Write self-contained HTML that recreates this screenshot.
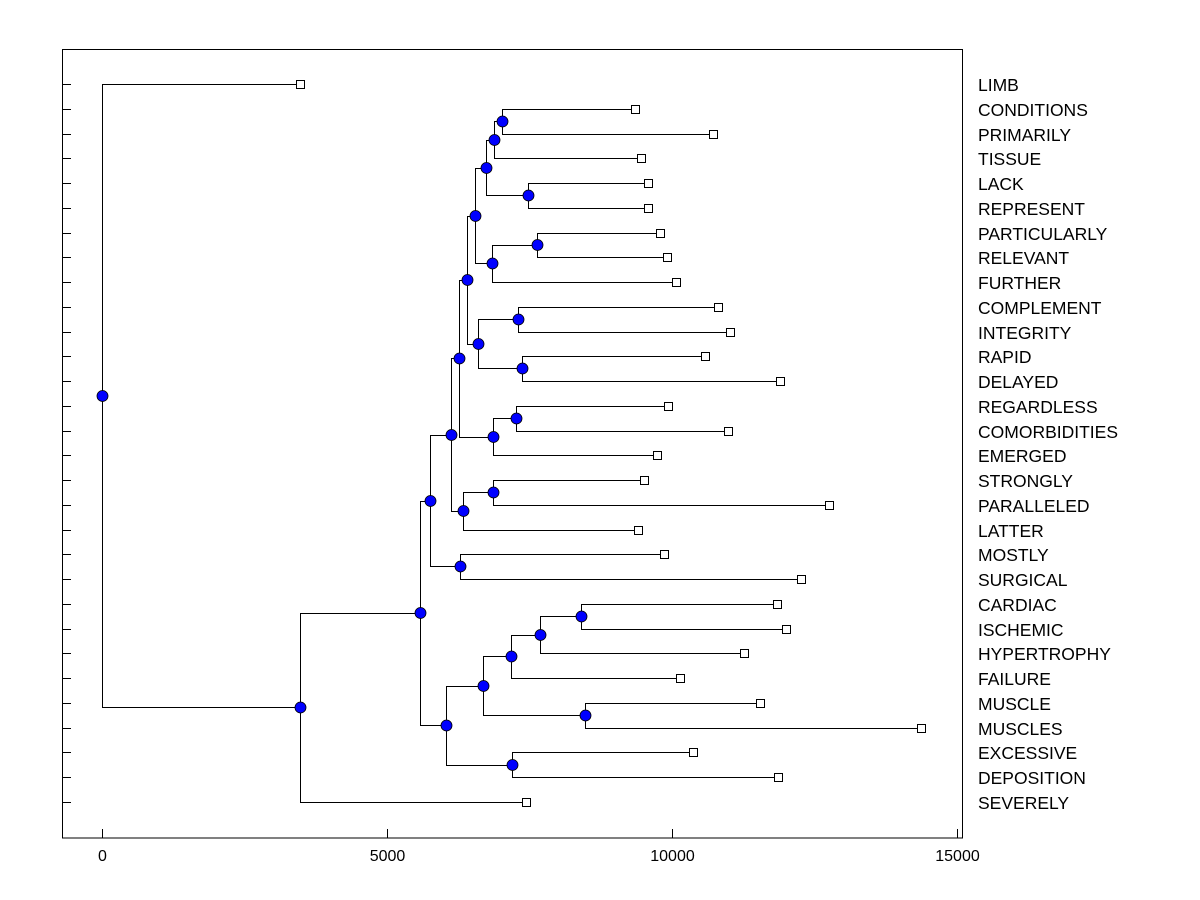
<!DOCTYPE html>
<html><head><meta charset="utf-8"><style>html,body{margin:0;padding:0;background:#fff}svg{display:block}text{font-family:"Liberation Sans",Arial,sans-serif;font-size:16px;fill:#000}.lab text{font-size:17.5px}</style></head><body>
<svg width="1200" height="900" viewBox="0 0 1200 900" xmlns="http://www.w3.org/2000/svg">
<rect x="0" y="0" width="1200" height="900" fill="#fff"/>
<rect x="62.5" y="49.5" width="900" height="788.5" fill="none" stroke="#000" stroke-width="1"/>
<g stroke="#000" stroke-width="1">
<path d="M62 84.5H71M62 109.5H71M62 134.5H71M62 158.5H71M62 183.5H71M62 208.5H71M62 233.5H71M62 257.5H71M62 282.5H71M62 307.5H71M62 332.5H71M62 356.5H71M62 381.5H71M62 406.5H71M62 431.5H71M62 455.5H71M62 480.5H71M62 505.5H71M62 530.5H71M62 554.5H71M62 579.5H71M62 604.5H71M62 629.5H71M62 653.5H71M62 678.5H71M62 703.5H71M62 728.5H71M62 752.5H71M62 777.5H71M62 802.5H71"/>
<path d="M102.5 838V829M387.5 838V829M672.5 838V829M957.5 838V829"/>
</g>
<g fill="none" stroke="#000" stroke-width="1">
<path d="M300 84.5H102.5V707.5H300"/>
<path d="M420 613.5H300.5V802.5H526"/>
<path d="M430 501.5H420.5V725.5H446"/>
<path d="M451 435.5H430.5V566.5H460"/>
<path d="M459 358.5H451.5V511.5H463"/>
<path d="M467 280.5H459.5V437.5H493"/>
<path d="M475 216.5H467.5V344.5H478"/>
<path d="M486 168.5H475.5V263.5H492"/>
<path d="M494 140.5H486.5V195.5H528"/>
<path d="M502 121.5H494.5V158.5H641"/>
<path d="M635 109.5H502.5V134.5H713"/>
<path d="M648 183.5H528.5V208.5H648"/>
<path d="M537 245.5H492.5V282.5H676"/>
<path d="M660 233.5H537.5V257.5H667"/>
<path d="M518 319.5H478.5V368.5H522"/>
<path d="M718 307.5H518.5V332.5H730"/>
<path d="M705 356.5H522.5V381.5H780"/>
<path d="M516 418.5H493.5V455.5H657"/>
<path d="M668 406.5H516.5V431.5H728"/>
<path d="M493 492.5H463.5V530.5H638"/>
<path d="M644 480.5H493.5V505.5H829"/>
<path d="M664 554.5H460.5V579.5H801"/>
<path d="M483 686.5H446.5V765.5H512"/>
<path d="M511 656.5H483.5V715.5H585"/>
<path d="M540 635.5H511.5V678.5H680"/>
<path d="M581 616.5H540.5V653.5H744"/>
<path d="M777 604.5H581.5V629.5H786"/>
<path d="M760 703.5H585.5V728.5H921"/>
<path d="M693 752.5H512.5V777.5H778"/>
</g>
<g fill="#fff" stroke="#000" stroke-width="1">
<rect x="296.5" y="80.5" width="8" height="8"/>
<rect x="631.5" y="105.5" width="8" height="8"/>
<rect x="709.5" y="130.5" width="8" height="8"/>
<rect x="637.5" y="154.5" width="8" height="8"/>
<rect x="644.5" y="179.5" width="8" height="8"/>
<rect x="644.5" y="204.5" width="8" height="8"/>
<rect x="656.5" y="229.5" width="8" height="8"/>
<rect x="663.5" y="253.5" width="8" height="8"/>
<rect x="672.5" y="278.5" width="8" height="8"/>
<rect x="714.5" y="303.5" width="8" height="8"/>
<rect x="726.5" y="328.5" width="8" height="8"/>
<rect x="701.5" y="352.5" width="8" height="8"/>
<rect x="776.5" y="377.5" width="8" height="8"/>
<rect x="664.5" y="402.5" width="8" height="8"/>
<rect x="724.5" y="427.5" width="8" height="8"/>
<rect x="653.5" y="451.5" width="8" height="8"/>
<rect x="640.5" y="476.5" width="8" height="8"/>
<rect x="825.5" y="501.5" width="8" height="8"/>
<rect x="634.5" y="526.5" width="8" height="8"/>
<rect x="660.5" y="550.5" width="8" height="8"/>
<rect x="797.5" y="575.5" width="8" height="8"/>
<rect x="773.5" y="600.5" width="8" height="8"/>
<rect x="782.5" y="625.5" width="8" height="8"/>
<rect x="740.5" y="649.5" width="8" height="8"/>
<rect x="676.5" y="674.5" width="8" height="8"/>
<rect x="756.5" y="699.5" width="8" height="8"/>
<rect x="917.5" y="724.5" width="8" height="8"/>
<rect x="689.5" y="748.5" width="8" height="8"/>
<rect x="774.5" y="773.5" width="8" height="8"/>
<rect x="522.5" y="798.5" width="8" height="8"/>
</g>
<g fill="#0000ff" stroke="#000" stroke-width="0.8">
<circle cx="102.5" cy="396" r="5.5"/>
<circle cx="300.5" cy="707.5" r="5.5"/>
<circle cx="420.5" cy="613" r="5.5"/>
<circle cx="430.5" cy="501" r="5.5"/>
<circle cx="451.5" cy="435" r="5.5"/>
<circle cx="459.5" cy="358.5" r="5.5"/>
<circle cx="467.5" cy="280" r="5.5"/>
<circle cx="475.5" cy="216" r="5.5"/>
<circle cx="486.5" cy="168" r="5.5"/>
<circle cx="494.5" cy="140" r="5.5"/>
<circle cx="502.5" cy="121.5" r="5.5"/>
<circle cx="528.5" cy="195.5" r="5.5"/>
<circle cx="492.5" cy="263.5" r="5.5"/>
<circle cx="537.5" cy="245" r="5.5"/>
<circle cx="478.5" cy="344" r="5.5"/>
<circle cx="518.5" cy="319.5" r="5.5"/>
<circle cx="522.5" cy="368.5" r="5.5"/>
<circle cx="493.5" cy="437" r="5.5"/>
<circle cx="516.5" cy="418.5" r="5.5"/>
<circle cx="463.5" cy="511" r="5.5"/>
<circle cx="493.5" cy="492.5" r="5.5"/>
<circle cx="460.5" cy="566.5" r="5.5"/>
<circle cx="446.5" cy="725.5" r="5.5"/>
<circle cx="483.5" cy="686" r="5.5"/>
<circle cx="511.5" cy="656.5" r="5.5"/>
<circle cx="540.5" cy="635" r="5.5"/>
<circle cx="581.5" cy="616.5" r="5.5"/>
<circle cx="585.5" cy="715.5" r="5.5"/>
<circle cx="512.5" cy="765" r="5.5"/>
</g>
<g class="lab">
<text x="978" y="91">LIMB</text>
<text x="978" y="116">CONDITIONS</text>
<text x="978" y="141">PRIMARILY</text>
<text x="978" y="165">TISSUE</text>
<text x="978" y="190">LACK</text>
<text x="978" y="215">REPRESENT</text>
<text x="978" y="240">PARTICULARLY</text>
<text x="978" y="264">RELEVANT</text>
<text x="978" y="289">FURTHER</text>
<text x="978" y="314">COMPLEMENT</text>
<text x="978" y="339">INTEGRITY</text>
<text x="978" y="363">RAPID</text>
<text x="978" y="388">DELAYED</text>
<text x="978" y="413">REGARDLESS</text>
<text x="978" y="438">COMORBIDITIES</text>
<text x="978" y="462">EMERGED</text>
<text x="978" y="487">STRONGLY</text>
<text x="978" y="512">PARALLELED</text>
<text x="978" y="537">LATTER</text>
<text x="978" y="561">MOSTLY</text>
<text x="978" y="586">SURGICAL</text>
<text x="978" y="611">CARDIAC</text>
<text x="978" y="636">ISCHEMIC</text>
<text x="978" y="660">HYPERTROPHY</text>
<text x="978" y="685">FAILURE</text>
<text x="978" y="710">MUSCLE</text>
<text x="978" y="735">MUSCLES</text>
<text x="978" y="759">EXCESSIVE</text>
<text x="978" y="784">DEPOSITION</text>
<text x="978" y="809">SEVERELY</text>
</g>
<g text-anchor="middle">
<text x="102.5" y="861">0</text>
<text x="387.5" y="861">5000</text>
<text x="672.5" y="861">10000</text>
<text x="957.5" y="861">15000</text>
</g>
</svg>
</body></html>
